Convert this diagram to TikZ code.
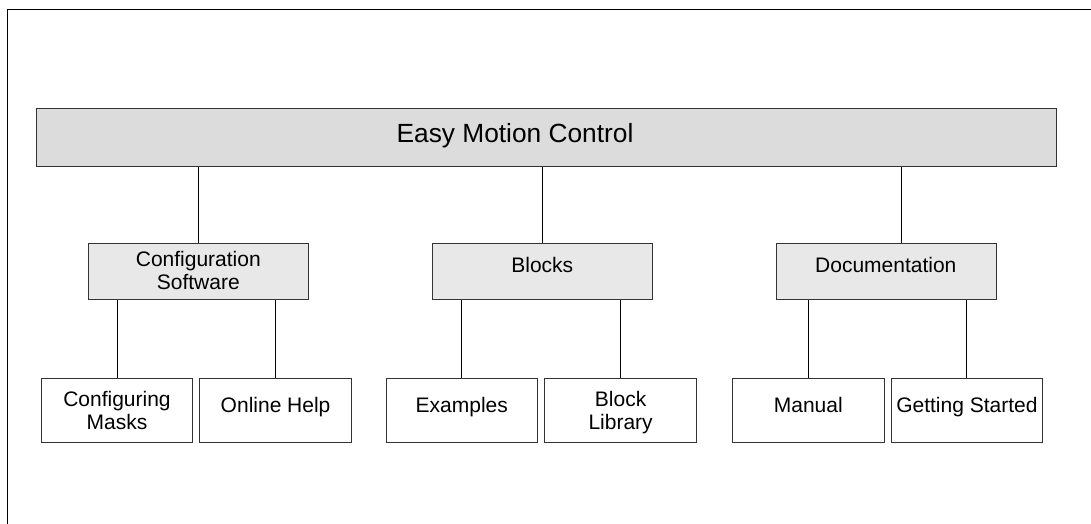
\documentclass[tikz,border=0pt]{standalone}
\usepackage{fontspec}
\setmainfont{Liberation Sans}
\begin{document}
\begin{tikzpicture}[x=1pt,y=-1pt,
  every node/.style={font=\fontsize{21}{23}\selectfont},
  box/.style={draw=black!80, line width=1pt, inner sep=0pt, anchor=north west},
  topbox/.style={box, fill=topgray, line width=1.3pt},
  midbox/.style={box, fill=midgray},
  leafbox/.style={box, fill=white},
  caption/.style={anchor=base, align=center, inner sep=0pt, text=black},
  link/.style={draw=black, line width=0.9pt}
]
\definecolor{topgray}{HTML}{DCDCDC}
\definecolor{midgray}{HTML}{E8E8E8}
\useasboundingbox (0,0) rectangle (1091,523);

% outer frame (only top and left edges fall inside the page)
\draw[line width=1pt] (7.5,540) -- (7.5,9.3) -- (1100,9.3);

% top level
\node[topbox, minimum width=1020pt, minimum height=58pt] (emc) at (36,108) {};
\node[caption, font=\fontsize{26.3}{28}\selectfont] (emct) at (515,142.7) {Easy Motion Control};

% second level
\node[midbox, minimum width=220pt, minimum height=56.5pt] (cs) at (88.3,242.7) {};
\node[midbox, minimum width=220pt, minimum height=56.5pt] (bl) at (432.3,242.7) {};
\node[midbox, minimum width=220pt, minimum height=56.5pt] (doc) at (776,242.7) {};
% two-line captions: the base anchor sits on the last line
\node[caption] (cst) at (198.3,289) {Configuration\\Software};
\node[caption] (blt) at (542.3,272.7) {Blocks};
\node[caption] (doct) at (885.8,272.7) {Documentation};

% third level
\node[leafbox, minimum width=151.6pt, minimum height=64.6pt] (cm) at (40.7,377.7) {};
\node[leafbox, minimum width=151.6pt, minimum height=64.6pt] (oh) at (199.3,377.7) {};
\node[leafbox, minimum width=151.6pt, minimum height=64.6pt] (ex) at (385.5,377.7) {};
\node[leafbox, minimum width=151.6pt, minimum height=64.6pt] (lib) at (544.3,377.7) {};
\node[leafbox, minimum width=151.6pt, minimum height=64.6pt] (man) at (732,377.7) {};
\node[leafbox, minimum width=151.6pt, minimum height=64.6pt] (gs) at (890.6,377.7) {};
\node[caption] (cmt) at (cm.north |- 0,429.5) {Configuring\\Masks};
\node[caption] (oht) at (oh.north |- 0,412.5) {Online Help};
\node[caption] (ext) at (ex.north |- 0,412.5) {Examples};
\node[caption] (libt) at (lib.north |- 0,429.5) {Block\\Library};
\node[caption] (mant) at (man.north |- 0,412.5) {Manual};
\node[caption] (gst) at (gs.north |- 0,412.5) {Getting Started};

% connectors
\coordinate (docx) at (901.5,0);
\draw[link] (cs.north) -- (cs.north |- emc.south);
\draw[link] (bl.north) -- (bl.north |- emc.south);
\draw[link] (doc.north -| docx) -- (emc.south -| docx);
\draw[link] (cm.north) -- (cm.north |- cs.south);
\draw[link] (oh.north) -- (oh.north |- cs.south);
\draw[link] (ex.north) -- (ex.north |- bl.south);
\draw[link] (lib.north) -- (lib.north |- bl.south);
\draw[link] (man.north) -- (man.north |- doc.south);
\draw[link] (gs.north) -- (gs.north |- doc.south);
\end{tikzpicture}
\end{document}
